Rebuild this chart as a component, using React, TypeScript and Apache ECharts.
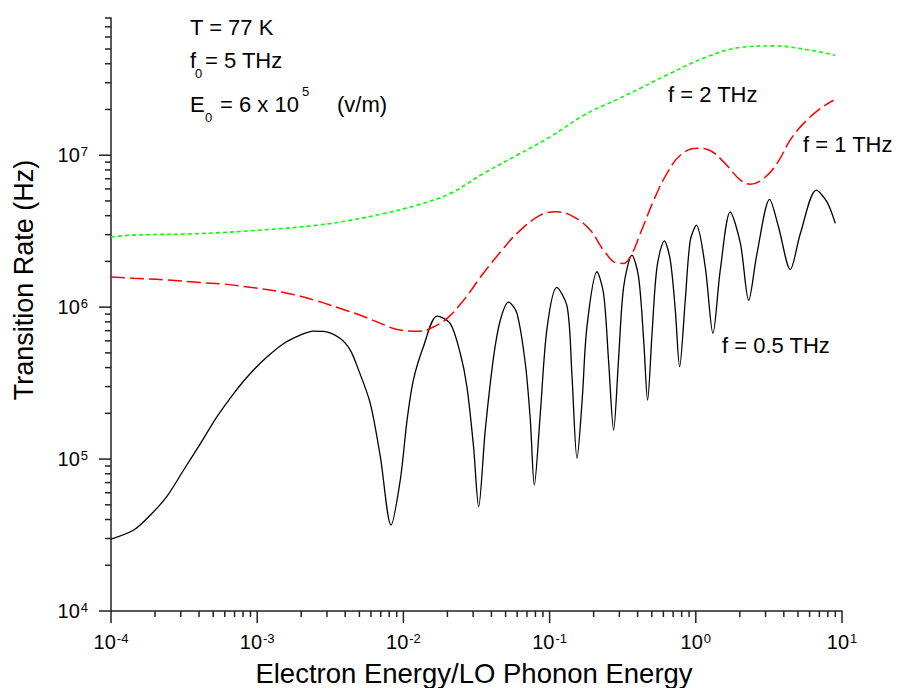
import { useEffect, useRef } from 'react';
import * as echarts from 'echarts';

const FONT = '"Liberation Sans", Arial, Helvetica, sans-serif';
const AXIS_COLOR = '#222';

// Axis extents
const ENERGY_MIN = 1e-4;
const ENERGY_MAX = 10;
const RATE_MIN = 1e4;
const RATE_MAX = 8e7;

// Decades that carry a labelled major tick
const xDecades = [1e-4, 1e-3, 1e-2, 1e-1, 1, 10];
const yDecades = [1e4, 1e5, 1e6, 1e7];
const minorSteps = [2, 3, 4, 5, 6, 7, 8, 9];

// f = 0.5 THz
const energy05 = [
  1.0e-4, 1.43e-4, 1.86e-4, 2.42e-4, 3.14e-4, 4.08e-4, 5.31e-4, 6.9e-4, 8.97e-4, 1.17e-3,
  1.52e-3, 1.97e-3, 2.43e-3, 2.85e-3, 3.7e-3, 4.33e-3, 4.94e-3, 5.94e-3, 6.95e-3, 8.23e-3,
  9.52e-3, 1.06e-2, 1.17e-2, 1.37e-2, 1.7e-2, 2.09e-2, 2.45e-2, 2.72e-2, 3.02e-2, 3.27e-2,
  3.63e-2, 4.14e-2, 4.6e-2, 5.24e-2, 5.98e-2, 6.82e-2, 7.38e-2, 7.86e-2, 8.64e-2, 9.6e-2,
  0.112, 0.132, 0.142, 0.154, 0.167, 0.18, 0.211, 0.234, 0.253, 0.274,
  0.296, 0.321, 0.366, 0.406, 0.44, 0.468, 0.502, 0.543, 0.609, 0.669,
  0.724, 0.775, 0.847, 0.917, 1.01, 1.16, 1.31, 1.47, 1.72, 2.02,
  2.3, 2.62, 3.2, 3.68, 4.43, 5.19, 6.67, 7.89, 9.0,
];
const rate05 = [
  2.97e4, 3.41e4, 4.28e4, 5.71e4, 8.47e4, 1.26e5, 1.9e5, 2.7e5, 3.66e5, 4.71e5,
  5.77e5, 6.55e5, 6.96e5, 6.92e5, 6.22e5, 5.21e5, 3.85e5, 2.32e5, 1.04e5, 3.68e4,
  7.28e4, 1.81e5, 3.31e5, 5.48e5, 8.73e5, 7.82e5, 4.95e5, 2.99e5, 1.2e5, 4.85e4,
  1.55e5, 4.71e5, 8.2e5, 1.08e6, 9.1e5, 4.27e5, 1.81e5, 6.75e4, 2.0e5, 7.24e5,
  1.35e6, 1.0e6, 3.66e5, 1.01e5, 2.44e5, 7.41e5, 1.71e6, 1.23e6, 4.48e5, 1.55e5,
  4.48e5, 1.36e6, 2.2e6, 1.58e6, 6.07e5, 2.44e5, 6.71e5, 1.84e6, 2.73e6, 2.04e6,
  9.55e5, 4.05e5, 1.11e6, 2.76e6, 3.46e6, 1.84e6, 6.71e5, 1.75e6, 4.24e6, 2.62e6,
  1.11e6, 2.25e6, 5.12e6, 3.37e6, 1.77e6, 3.05e6, 5.89e6, 4.93e6, 3.56e6,
];

// f = 1 THz
const energy1 = [
  1.0e-4, 1.43e-4, 2.42e-4, 4.08e-4, 5.89e-4, 8.97e-4, 1.52e-3, 2.56e-3, 3.7e-3, 5.07e-3,
  6.6e-3, 9.52e-3, 1.3e-2, 1.53e-2, 1.99e-2, 2.58e-2, 3.52e-2, 4.6e-2, 6.01e-2, 8.64e-2,
  0.112, 0.146, 0.19, 0.234, 0.289, 0.321, 0.366, 0.417, 0.528, 0.635,
  0.783, 1.02, 1.26, 1.55, 2.02, 2.36, 2.91, 3.59, 4.43, 5.46,
  7.11, 8.76,
];
const rate1 = [
  1.58e6, 1.55e6, 1.51e6, 1.45e6, 1.42e6, 1.35e6, 1.25e6, 1.1e6, 9.8e5, 8.85e5,
  8.0e5, 7.06e5, 6.95e5, 7.24e5, 8.44e5, 1.11e6, 1.67e6, 2.3e6, 3.07e6, 4.03e6,
  4.24e6, 3.93e6, 3.21e6, 2.37e6, 1.95e6, 1.94e6, 2.25e6, 3.05e6, 5.32e6, 7.59e6,
  1.0e7, 1.11e7, 1.07e7, 9.04e6, 6.85e6, 6.44e6, 7.03e6, 8.81e6, 1.26e7, 1.62e7,
  2.03e7, 2.3e7,
];

// f = 2 THz
const energy2 = [
  1.0e-4, 1.43e-4, 4.08e-4, 1.17e-3, 2.56e-3, 4.33e-3, 7.32e-3, 1.24e-2, 2.09e-2, 3.54e-2,
  5.98e-2, 0.101, 0.171, 0.29, 0.417, 0.649, 1.19, 2.02, 3.4, 5.76, 9.0,
];
const rate2 = [
  2.9e6, 2.98e6, 3.05e6, 3.24e6, 3.46e6, 3.73e6, 4.13e6, 4.69e6, 5.6e6, 7.59e6,
  1.0e7, 1.32e7, 1.83e7, 2.33e7, 2.76e7, 3.41e7, 4.44e7, 5.12e7, 5.24e7, 4.95e7, 4.55e7,
];

const pairs = (xs: number[], ys: number[]) => xs.map((x, i) => [x, ys[i]]);

const minorOf = (decades: number[], limit: number) => {
  const out: number[] = [];
  decades.forEach((d) => minorSteps.forEach((m) => {
    const v = m * d;
    if (v <= limit * 1.000001) out.push(v);
  }));
  return out;
};

const xMinor = minorOf(xDecades.slice(0, -1), ENERGY_MAX);
const yMinor = minorOf(yDecades, RATE_MAX);

const powerLabel = (v: number) => {
  const e = Math.log10(v);
  const r = Math.round(e);
  if (Math.abs(e - r) > 1e-6) return '';
  return `{b|10}{s|${r}}`;
};

const labelRich = {
  b: { fontSize: 20, lineHeight: 20, fontFamily: FONT, color: '#000' },
  s: { fontSize: 13, lineHeight: 13, fontFamily: FONT, color: '#000', verticalAlign: 'top', padding: [0, 0, 0, 1] },
};

const tickSeries = (values: number[], axis: 'x' | 'y', len: number) => ({
  type: 'custom',
  silent: true,
  clip: false,
  z: 4,
  data: values.map((v) => (axis === 'x' ? [v, RATE_MIN] : [ENERGY_MIN, v])),
  renderItem: (_p: any, api: any) => {
    const p = api.coord([api.value(0), api.value(1)]);
    const shape = axis === 'x'
      ? { x1: p[0], y1: p[1], x2: p[0], y2: p[1] + len }
      : { x1: p[0], y1: p[1], x2: p[0] - len, y2: p[1] };
    return { type: 'line', shape, style: { stroke: AXIS_COLOR, lineWidth: 1.5 } };
  },
});

const txt = (text: string, x: number, y: number, size: number, extra: any = {}) => ({
  type: 'text',
  x,
  y,
  z: 10,
  ...extra,
  style: {
    text,
    fontSize: size,
    fontFamily: FONT,
    fill: '#000',
    align: 'left',
    verticalAlign: 'middle',
    textAlign: 'left',
    textVerticalAlign: 'middle',
    ...(extra.style || {}),
  },
});

export default function App() {
  const ref = useRef<HTMLDivElement>(null);

  useEffect(() => {
    if (!ref.current) return;
    const chart = echarts.init(ref.current, null, { renderer: 'svg' });

    const option: any = {
      animation: false,
      backgroundColor: '#fff',
      grid: { left: 111, right: 56, top: 18, bottom: 77, containLabel: false, outerBoundsMode: 'none' },
      xAxis: {
        type: 'log',
        min: ENERGY_MIN,
        max: ENERGY_MAX,
        logBase: 10,
        axisLine: { show: true, lineStyle: { color: AXIS_COLOR, width: 1.5 } },
        axisTick: { show: false },
        minorTick: { show: false },
        splitLine: { show: false },
        axisLabel: { margin: 21, formatter: powerLabel, rich: labelRich, showMaxLabel: true, showMinLabel: true },
      },
      yAxis: {
        type: 'log',
        min: RATE_MIN,
        max: RATE_MAX,
        logBase: 10,
        axisLine: { show: true, lineStyle: { color: AXIS_COLOR, width: 1.5 } },
        axisTick: { show: false },
        minorTick: { show: false },
        splitLine: { show: false },
        axisLabel: { margin: 23, formatter: powerLabel, rich: labelRich, align: 'right' },
      },
      series: [
        {
          name: 'f = 0.5 THz',
          type: 'line',
          data: pairs(energy05, rate05),
          symbol: 'none',
          smooth: 0.3,
          z: 2,
          lineStyle: { color: '#000', width: 1.3 },
        },
        {
          name: 'f = 1 THz',
          type: 'line',
          data: pairs(energy1, rate1),
          symbol: 'none',
          smooth: 0.4,
          z: 3,
          lineStyle: { color: '#ff0000', width: 1.5, type: [14, 5] },
        },
        {
          name: 'f = 2 THz',
          type: 'line',
          data: pairs(energy2, rate2),
          symbol: 'none',
          smooth: 0.4,
          z: 3,
          lineStyle: { color: '#00ff00', width: 1.6, type: [4, 3] },
        },
        tickSeries(xDecades, 'x', 12),
        tickSeries(xMinor, 'x', 6),
        tickSeries(yDecades, 'y', 12),
        tickSeries(yMinor, 'y', 6),
      ],
      graphic: [
        // axis titles
        txt('Electron Energy/LO Phonon Energy', 474, 673, 27.5, { style: { align: 'center', textAlign: 'center' } }),
        txt('Transition Rate (Hz)', 24, 280, 27, { rotation: Math.PI / 2, style: { align: 'center', textAlign: 'center' } }),
        // conditions
        txt('T = 77 K', 190, 27.5, 22),
        txt('f', 190, 60.5, 22),
        txt('0', 195, 73, 13),
        txt('= 5 THz', 205, 60.5, 22),
        txt('E', 190, 104.5, 22),
        txt('0', 205, 117.5, 13),
        txt('= 6 x 10', 220, 104.5, 22),
        txt('5', 302, 91, 13),
        txt('(v/m)', 337, 104.5, 22),
        // curve labels
        txt('f = 2 THz', 668, 94.5, 22),
        txt('f = 1 THz', 803, 144.5, 22),
        txt('f = 0.5 THz', 722, 345.5, 22),
      ],
    };

    chart.setOption(option);
    return () => chart.dispose();
  }, []);

  return (
    <div
      ref={ref}
      style={{ position: 'absolute', left: 0, top: 0, width: 898, height: 688, background: '#fff' }}
    />
  );
}
